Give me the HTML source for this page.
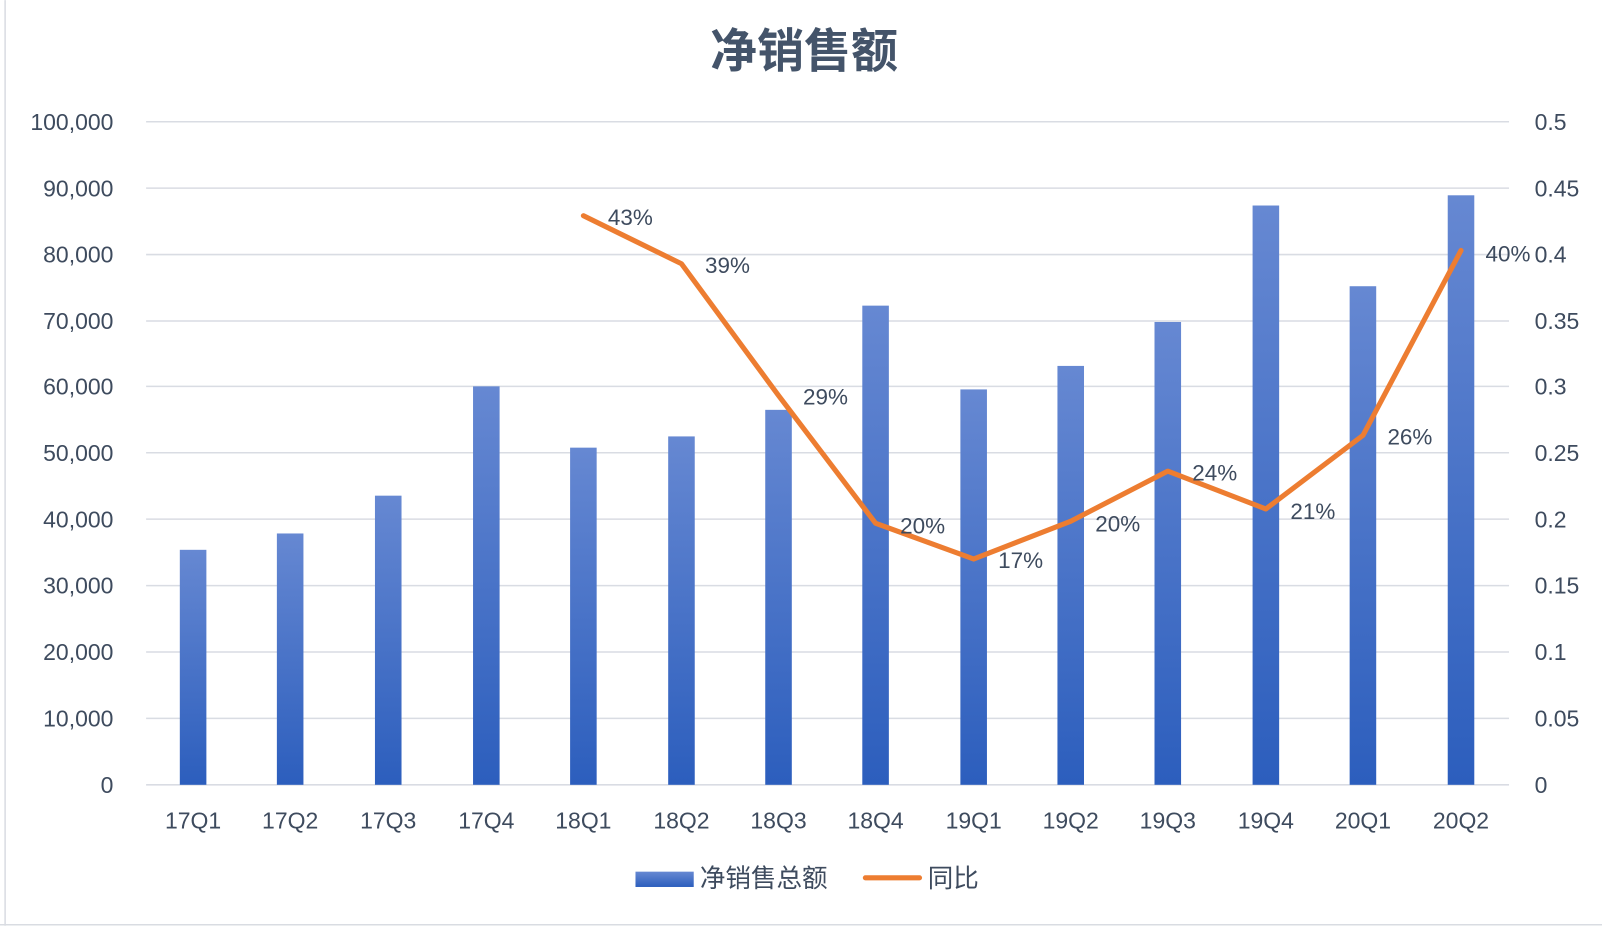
<!DOCTYPE html><html><head><meta charset="utf-8"><style>html,body{margin:0;padding:0;background:#fff}svg{display:block}</style></head><body>
<svg width="1602" height="928" viewBox="0 0 1568 908" xmlns="http://www.w3.org/2000/svg" font-family="Liberation Sans, 'Noto Sans CJK SC', sans-serif" fill="#3e4b5e">
<defs><linearGradient id="g" x1="0" y1="0" x2="0" y2="1"><stop offset="0" stop-color="#6688d2"/><stop offset="1" stop-color="#2c5ebd"/></linearGradient></defs>
<line x1="5" y1="0" x2="5" y2="906" stroke="#d9dce2" stroke-width="1.5"/>
<line x1="0" y1="905" x2="1568" y2="905" stroke="#d9dce2" stroke-width="1.5"/>
<text x="787" y="66" text-anchor="middle" font-size="46" font-weight="bold" fill="#44546a">净销售额</text>
<g stroke="#d9dce3" stroke-width="1.5">
<line x1="143" x2="1477" y1="119" y2="119"/><line x1="143" x2="1477" y1="184" y2="184"/><line x1="143" x2="1477" y1="249" y2="249"/><line x1="143" x2="1477" y1="314" y2="314"/><line x1="143" x2="1477" y1="378" y2="378"/><line x1="143" x2="1477" y1="443" y2="443"/><line x1="143" x2="1477" y1="508" y2="508"/><line x1="143" x2="1477" y1="573" y2="573"/><line x1="143" x2="1477" y1="638" y2="638"/><line x1="143" x2="1477" y1="703" y2="703"/><line x1="143" x2="1477" y1="768" y2="768"/>
</g>
<g font-size="22.5" text-anchor="end">
<text x="111" y="127">100,000</text><text x="111" y="192">90,000</text><text x="111" y="257">80,000</text><text x="111" y="322">70,000</text><text x="111" y="386">60,000</text><text x="111" y="451">50,000</text><text x="111" y="516">40,000</text><text x="111" y="581">30,000</text><text x="111" y="646">20,000</text><text x="111" y="711">10,000</text><text x="111" y="776">0</text>
</g>
<g font-size="22.5">
<text x="1502" y="127">0.5</text><text x="1502" y="192">0.45</text><text x="1502" y="257">0.4</text><text x="1502" y="322">0.35</text><text x="1502" y="386">0.3</text><text x="1502" y="451">0.25</text><text x="1502" y="516">0.2</text><text x="1502" y="581">0.15</text><text x="1502" y="646">0.1</text><text x="1502" y="711">0.05</text><text x="1502" y="776">0</text>
</g>
<g fill="url(#g)">
<rect x="176" y="538" width="26" height="230"/><rect x="271" y="522" width="26" height="246"/><rect x="367" y="485" width="26" height="283"/><rect x="463" y="378" width="26" height="390"/><rect x="558" y="438" width="26" height="330"/><rect x="654" y="427" width="26" height="341"/><rect x="749" y="401" width="26" height="367"/><rect x="844" y="299" width="26" height="469"/><rect x="940" y="381" width="26" height="387"/><rect x="1035" y="358" width="26" height="410"/><rect x="1130" y="315" width="26" height="453"/><rect x="1226" y="201" width="26" height="567"/><rect x="1321" y="280" width="26" height="488"/><rect x="1417" y="191" width="26" height="577"/>
</g>
<polyline points="571,211 667,258 762,387 857,512 953,547 1048,510 1143,461 1239,498 1334,426 1430,245" fill="none" stroke="#ed7d31" stroke-width="5" stroke-linejoin="round" stroke-linecap="round"/>
<g font-size="22">
<text x="595" y="220">43%</text><text x="690" y="267">39%</text><text x="786" y="396">29%</text><text x="881" y="522">20%</text><text x="977" y="556">17%</text><text x="1072" y="520">20%</text><text x="1167" y="470">24%</text><text x="1263" y="508">21%</text><text x="1358" y="435">26%</text><text x="1454" y="256">40%</text>
</g>
<g font-size="22.5" text-anchor="middle">
<text x="189" y="811">17Q1</text><text x="284" y="811">17Q2</text><text x="380" y="811">17Q3</text><text x="476" y="811">17Q4</text><text x="571" y="811">18Q1</text><text x="667" y="811">18Q2</text><text x="762" y="811">18Q3</text><text x="857" y="811">18Q4</text><text x="953" y="811">19Q1</text><text x="1048" y="811">19Q2</text><text x="1143" y="811">19Q3</text><text x="1239" y="811">19Q4</text><text x="1334" y="811">20Q1</text><text x="1430" y="811">20Q2</text>
</g>
<rect x="622" y="853" width="57" height="15" fill="url(#g)"/>
<text x="685" y="868" font-size="25">净销售总额</text>
<line x1="847" y1="859" x2="900" y2="859" stroke="#ed7d31" stroke-width="5" stroke-linecap="round"/>
<text x="908" y="868" font-size="25">同比</text>
</svg>
</body></html>
